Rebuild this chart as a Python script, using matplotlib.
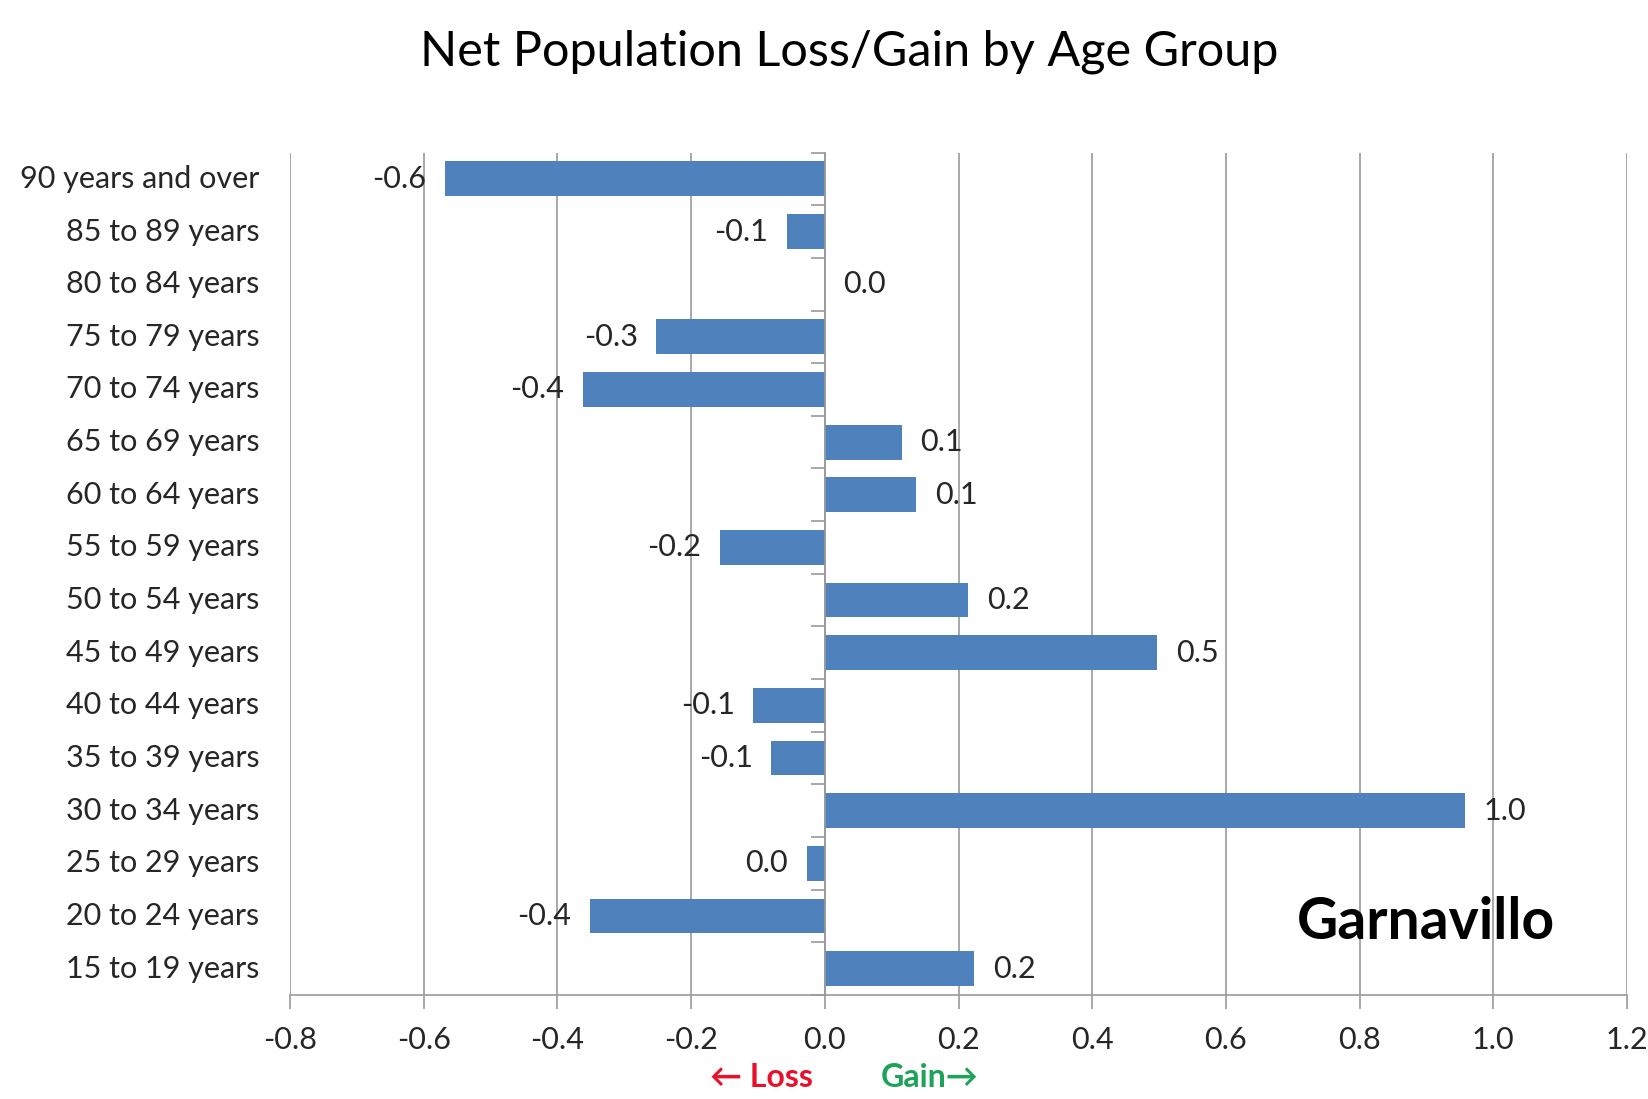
import matplotlib
matplotlib.use("Agg")
import matplotlib.pyplot as plt
import matplotlib.transforms as mtransforms
import numpy as np

# Data (top to bottom as shown)
categories = ["90 years and over", "85 to 89 years", "80 to 84 years", "75 to 79 years",
              "70 to 74 years", "65 to 69 years", "60 to 64 years", "55 to 59 years",
              "50 to 54 years", "45 to 49 years", "40 to 44 years", "35 to 39 years",
              "30 to 34 years", "25 to 29 years", "20 to 24 years", "15 to 19 years"]
values = [-0.568, -0.057, 0.0, -0.252, -0.362, 0.115, 0.137, -0.157,
          0.214, 0.497, -0.107, -0.080, 0.957, -0.027, -0.352, 0.223]
xticks = [-0.8, -0.6, -0.4, -0.2, 0.0, 0.2, 0.4, 0.6, 0.8, 1.0, 1.2]

FONT = ["Lato", "DejaVu Sans"]
plt.rcParams["font.family"] = FONT
TXT = "#262626"
GRID = "#9a9a9a"
FS = 22

fig = plt.figure(figsize=(16.49, 10.99), dpi=100)
ax = fig.add_axes([0.1759, 0.0946, 0.9867 - 0.1759, 0.8612 - 0.0946])

n = len(categories)
y = np.arange(n)[::-1]
ax.barh(y, values, height=0.66, color="#4F81BD", zorder=3)

ax.set_xlim(-0.8, 1.2)
ax.set_ylim(-0.5, n - 0.5)
ax.set_xticks(xticks)
ax.set_xticklabels([f"{t:.1f}" for t in xticks], fontsize=FS, color=TXT)
ax.tick_params(axis="x", length=10, width=1.2, color=GRID, pad=12, direction="out")
ax.xaxis.grid(True, color=GRID, linewidth=1.2, zorder=0)

# y axis at zero with boundary ticks
ax.spines["left"].set_position(("data", 0))
ax.spines["left"].set_color(GRID)
ax.spines["left"].set_linewidth(1.2)
ax.spines["left"].set_zorder(4)
ax.set_yticks(y)
ax.set_yticklabels([])
ax.tick_params(axis="y", which="major", length=0)
ax.set_yticks(np.arange(n + 1) - 0.5, minor=True)
ax.tick_params(axis="y", which="minor", length=10, width=1.2, color=GRID, direction="out")
ax.spines["bottom"].set_color(GRID)
ax.spines["bottom"].set_linewidth(1.2)
ax.spines["top"].set_visible(False)
ax.spines["right"].set_visible(False)

# Category labels at the low side
trans = mtransforms.blended_transform_factory(ax.transAxes, ax.transData)
for yi, cat in zip(y, categories):
    ax.text(-0.023, yi, cat, transform=trans, ha="right", va="center",
            fontsize=FS, color=TXT)

# Data labels
off = 0.028
for yi, v in zip(y, values):
    lab = f"{v:.1f}"
    if lab == "-0.0":
        lab = "0.0"
    if v < 0:
        ax.text(v - off, yi, lab, ha="right", va="center", fontsize=FS, color=TXT, zorder=5)
    else:
        ax.text(v + off, yi, lab, ha="left", va="center", fontsize=FS, color=TXT, zorder=5)

ax.text(0.899, 0.88, "Garnavillo", ha="center", va="center", fontsize=41,
        fontweight="bold", color="black", zorder=5)

fig.text(0.515, 0.953, "Net Population Loss/Gain by Age Group", ha="center", va="center",
         fontsize=35, color="black")
fig.text(0.462, 0.020, "\u2190 Loss", ha="center", va="center", fontsize=23,
         fontweight="bold", color="#E8102A")
fig.text(0.564, 0.020, "Gain\u2192", ha="center", va="center", fontsize=23,
         fontweight="bold", color="#1EA35A")

fig.savefig("out.png", dpi=100)
